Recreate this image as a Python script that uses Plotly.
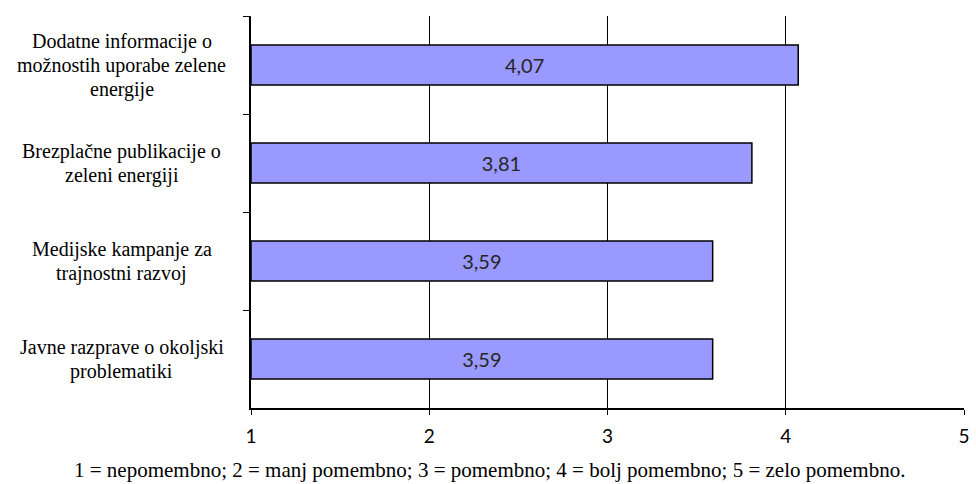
import plotly.graph_objects as go

# Survey items (top to bottom) and their mean importance scores
categories = [
    "Dodatne informacije o<br>možnostih uporabe zelene<br>energije",
    "Brezplačne publikacije o<br>zeleni energiji",
    "Medijske kampanje za<br>trajnostni razvoj",
    "Javne razprave o okoljski<br>problematiki",
]
scores = [4.07, 3.81, 3.59, 3.59]
x_ticks = [1, 2, 3, 4, 5]
scale_note = "1 = nepomembno; 2 = manj pomembno; 3 = pomembno; 4 = bolj pomembno; 5 = zelo pomembno."

SCALE_MIN = 1
SERIF = "Liberation Serif"
SANS = "Lato"
LINE_STEP = 24  # px between lines of a category label

fig = go.Figure()
fig.add_trace(go.Bar(
    y=categories,
    x=[s - SCALE_MIN for s in scores],
    base=SCALE_MIN,
    orientation="h",
    width=0.41,
    marker=dict(color="#9999FF", line=dict(color="#000000", width=1.5)),
    text=[f"{s:.2f}".replace(".", ",") for s in scores],
    textposition="inside",
    insidetextanchor="middle",
    textangle=0,
    textfont=dict(family=SANS, size=20, color="#262626"),
    hoverinfo="skip",
))

# Category labels, centred in the left margin, one annotation per line
for cat in categories:
    lines = cat.split("<br>")
    n = len(lines)
    for i, line in enumerate(lines):
        fig.add_annotation(
            x=-0.181, xref="paper", y=cat, yref="y",
            text=line, showarrow=False, xanchor="center", yanchor="middle",
            yshift=((n - 1) / 2 - i) * LINE_STEP,
            font=dict(family=SERIF, size=20, color="#000000"),
        )

# Scale legend below the axis
fig.add_annotation(
    x=0.335, xref="paper", y=-0.157, yref="paper",
    text=scale_note, showarrow=False, xanchor="center", yanchor="middle",
    font=dict(family=SERIF, size=21, color="#000000"),
)

fig.update_layout(
    width=976, height=484,
    margin=dict(l=251, r=6, t=16, b=76),
    paper_bgcolor="white", plot_bgcolor="white",
    showlegend=False,
    font=dict(family=SANS),
    xaxis=dict(
        range=[1, 5], tickvals=x_ticks, ticktext=[str(t) for t in x_ticks],
        showgrid=True, gridcolor="#000000", gridwidth=1,
        showline=True, linecolor="#000000", linewidth=1.5,
        ticks="outside", ticklen=5, tickcolor="#000000",
        ticklabelstandoff=5,
        zeroline=False,
        tickfont=dict(family=SANS, size=19, color="#000000"),
    ),
    yaxis=dict(
        categoryorder="array", categoryarray=categories,
        autorange="reversed",
        showticklabels=False,
        tickson="boundaries", ticks="outside", ticklen=6, tickcolor="#000000",
        showgrid=False,
        showline=True, linecolor="#000000", linewidth=1.5,
        zeroline=False,
    ),
)

fig.write_html("out.html")
